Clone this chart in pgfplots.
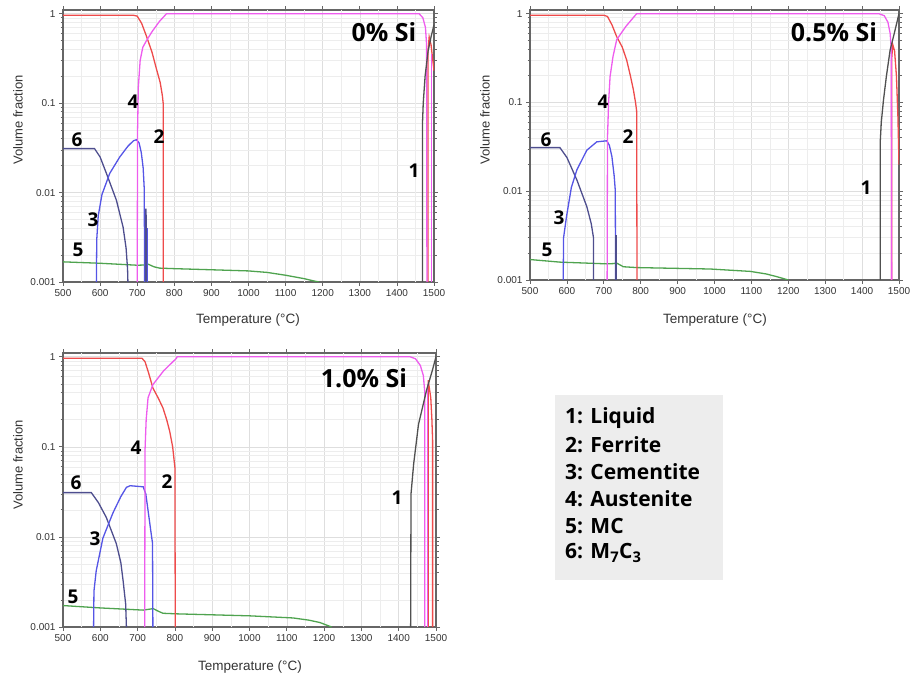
\documentclass[border=0pt]{standalone}
\usepackage{fontspec}
\setmainfont{Open Sans}
\newfontfamily\arial{Liberation Sans}
\usepackage{pgfplots}
\pgfplotsset{compat=1.18}

\definecolor{cFer}{HTML}{EE4B4B}
\definecolor{cAus}{HTML}{EE5CEE}
\definecolor{cCem}{HTML}{5555E6}
\definecolor{cMS}{HTML}{4E4E8E}
\definecolor{cMC}{HTML}{4FA34F}
\definecolor{cLiq}{HTML}{505050}

\pgfplotsset{
  every axis/.append style={
    scale only axis,
    anchor=south west,
    grid=both,
    major grid style={black!13, line width=0.6pt},
    minor grid style={black!7, line width=0.5pt},
    axis line style={draw=black!60, line width=1.1pt},
    tick align=outside,
    major tick length=4pt, minor tick length=2.5pt,
    tick style={black!60, line width=0.7pt},
    ticklabel style={font=\arial\fontsize{10}{11}\selectfont, text=black!80},
  },
  every axis plot/.append style={line width=1.3pt, no marks},
}

\newcommand{\cnum}[1]{{\fontsize{19}{19}\selectfont\bfseries #1}}
\newcommand{\csi}[1]{{\fontsize{25}{25}\selectfont\bfseries #1}}
\newcommand{\vf}{{\arial\fontsize{13}{13}\selectfont\color{black!80}Volume fraction}}
\newcommand{\tc}{{\arial\fontsize{13.5}{14}\selectfont\color{black!80}Temperature (°C)}}

\begin{document}
\begin{tikzpicture}
\path[use as bounding box] (0pt,0pt) rectangle (913pt,677pt);

%% 0% Si
\begin{axis}[at={(63pt,395pt)}, width=371pt, height=272pt,
  xmin=500, xmax=1500, ymode=log, ymin=0.001, ymax=1.1,
  xtick={500,600,...,1500}, extra x ticks={550,650,...,1450}, extra x tick labels={},
  extra x tick style={grid=major, major grid style={black!7, line width=0.5pt}, major tick length=0pt},
  ytick={0.001,0.01,0.1,1}, yticklabels={0.001,0.01,0.1,1},
  /pgf/number format/set thousands separator={},
  /pgf/number format/assume math mode=true]
\addplot[cMC] coordinates {(500,0.00168)(600,0.00162)(700,0.00154)(722,0.00155)(730,0.00158)(745,0.00148)(760,0.00143)(800,0.00141)(900,0.00137)(1000,0.00133)(1050,0.00128)(1100,0.00119)(1150,0.00109)(1175,0.00103)(1190,0.001)};
\addplot[cMS] coordinates {(500,0.031)(585,0.031)(600,0.025)(617,0.0164)(644,0.0082)(662,0.0041)(670,0.0024)(674,0.0014)(675,0.001)};
\addplot[cCem] coordinates {(590,0.001)(591,0.003)(595,0.0055)(605,0.0095)(626,0.0164)(653,0.025)(675,0.033)(690,0.038)(698,0.039)(705,0.036)(711,0.028)(716,0.019)(719,0.011)(720,0.001)};
\addplot[cMS, line width=1.6pt] coordinates {(723,0.001)(723,0.0066)(724,0.005)(725,0.001)};
\addplot[cCem, line width=1pt] coordinates {(728,0.001)(728,0.004)};
\addplot[cFer] coordinates {(500,0.96)(690,0.96)(700,0.94)(712,0.78)(725,0.56)(740,0.37)(752,0.24)(762,0.17)(768,0.12)(770,0.1)(770,0.001)};
\addplot[cFer] coordinates {(1484,0.001)(1484,0.4)(1487,0.55)(1492,0.45)(1500,0.23)};
\addplot[cAus] coordinates {(700,0.001)(701,0.05)(703,0.15)(708,0.3)(715,0.42)(725,0.5)(740,0.63)(760,0.82)(779,1.0)(1460,1.0)(1470,0.9)(1477,0.7)(1480,0.45)(1481,0.001)};
\addplot[cAus] coordinates {(1494,0.001)(1494,0.35)};
\addplot[cLiq] coordinates {(1469,0.001)(1469,0.06)(1471,0.1)(1476,0.2)(1484,0.38)(1492,0.55)(1500,0.75)};
\end{axis}

%% 0.5% Si
\begin{axis}[at={(530pt,397pt)}, width=369pt, height=270pt,
  xmin=500, xmax=1500, ymode=log, ymin=0.001, ymax=1.1,
  xtick={500,600,...,1500}, extra x ticks={550,650,...,1450}, extra x tick labels={},
  extra x tick style={grid=major, major grid style={black!7, line width=0.5pt}, major tick length=0pt},
  ytick={0.001,0.01,0.1,1}, yticklabels={0.001,0.01,0.1,1},
  /pgf/number format/set thousands separator={},
  /pgf/number format/assume math mode=true]
\addplot[cMC] coordinates {(500,0.0017)(581,0.00159)(708,0.00152)(725,0.00153)(735,0.00155)(753,0.00141)(789,0.00138)(988,0.00133)(1097,0.00125)(1140,0.00117)(1169,0.00109)(1200,0.001)};
\addplot[cMS] coordinates {(500,0.031)(581,0.031)(600,0.024)(627,0.0134)(654,0.0067)(666,0.0043)(672,0.003)(672,0.001)};
\addplot[cCem] coordinates {(590,0.001)(591,0.003)(599,0.0052)(612,0.011)(627,0.0174)(654,0.029)(681,0.036)(708,0.037)(715,0.033)(722,0.0245)(728,0.015)(731,0.0104)(732,0.001)};
\addplot[cMS, line width=2pt] coordinates {(734,0.001)(734,0.0032)};
\addplot[cFer] coordinates {(500,0.96)(700,0.96)(710,0.93)(722,0.75)(735,0.55)(750,0.42)(762,0.30)(772,0.2)(780,0.14)(786,0.1)(789,0.08)(790,0.001)};
\addplot[cFer] coordinates {(1480,0.001)(1480,0.3)(1483,0.45)(1488,0.38)(1493,0.2)(1497,0.07)(1500,0.02)};
\addplot[cAus] coordinates {(709,0.001)(710,0.04)(713,0.1)(717,0.196)(725,0.33)(735,0.51)(760,0.72)(789,1.0)(1445,1.0)(1460,0.95)(1470,0.8)(1476,0.6)(1479,0.4)(1480,0.001)};
\addplot[cLiq] coordinates {(1449,0.001)(1449,0.035)(1452,0.06)(1458,0.107)(1466,0.2)(1476,0.39)(1488,0.62)(1500,1.0)};
\end{axis}

%% 1.0% Si
\begin{axis}[at={(63pt,50pt)}, width=373pt, height=274pt,
  xmin=500, xmax=1500, ymode=log, ymin=0.001, ymax=1.1,
  xtick={500,600,...,1500}, extra x ticks={550,650,...,1450}, extra x tick labels={},
  extra x tick style={grid=major, major grid style={black!7, line width=0.5pt}, major tick length=0pt},
  ytick={0.001,0.01,0.1,1}, yticklabels={0.001,0.01,0.1,1},
  /pgf/number format/set thousands separator={},
  /pgf/number format/assume math mode=true]
\addplot[cMC] coordinates {(500,0.00173)(598,0.00163)(715,0.00154)(742,0.0016)(755,0.0015)(768,0.00142)(804,0.0014)(1001,0.00133)(1117,0.00126)(1160,0.00119)(1189,0.00112)(1220,0.001)};
\addplot[cMS] coordinates {(500,0.031)(576,0.031)(595,0.024)(616,0.0165)(643,0.0084)(655,0.0052)(661,0.0033)(668,0.0018)(670,0.001)};
\addplot[cCem] coordinates {(582,0.001)(583,0.0025)(589,0.0042)(607,0.0097)(634,0.0185)(655,0.028)(670,0.0355)(680,0.037)(715,0.036)(722,0.03)(728,0.0197)(735,0.012)(740,0.0085)(741,0.001)};
\addplot[cFer] coordinates {(500,0.96)(712,0.96)(720,0.88)(730,0.65)(741,0.45)(755,0.35)(768,0.27)(778,0.2)(786,0.149)(794,0.1)(800,0.059)(801,0.001)};
\addplot[cFer] coordinates {(1479,0.001)(1479,0.55)(1486,0.35)(1489,0.2)(1491,0.115)(1491,0.001)};
\addplot[cAus] coordinates {(719,0.001)(720,0.094)(723,0.2)(728,0.35)(741,0.49)(770,0.7)(804,0.96)(806,1.0)(1430,1.0)(1445,0.95)(1458,0.8)(1466,0.62)(1470,0.4)(1470,0.001)};
\addplot[cAus] coordinates {(1478,0.001)(1478,0.5)};
\addplot[cLiq] coordinates {(1432,0.001)(1433,0.03)(1440,0.064)(1453,0.177)(1475,0.43)(1490,0.7)(1500,1.0)};
\end{axis}

\begin{scope}[x=1pt,y=1pt]
%% axis titles
\node[rotate=90] at (18,557) {\vf};
\node[rotate=90] at (485,557) {\vf};
\node[rotate=90] at (18,212) {\vf};
\node at (248,357) {\tc};
\node at (715,357) {\tc};
\node at (250,10) {\tc};

%% curve numbers, 0% Si
\node at (384,645) {\csi{0\% Si}};
\node at (133,575) {\cnum{4}};
\node at (159,540) {\cnum{2}};
\node at (77,537) {\cnum{6}};
\node at (93,457) {\cnum{3}};
\node at (78,427) {\cnum{5}};
\node at (414,506) {\cnum{1}};

%% 0.5% Si
\node at (834,645) {\csi{0.5\% Si}};
\node at (603,575) {\cnum{4}};
\node at (628,540) {\cnum{2}};
\node at (546,537) {\cnum{6}};
\node at (559,459) {\cnum{3}};
\node at (547,427) {\cnum{5}};
\node at (866,489) {\cnum{1}};

%% 1.0% Si
\node at (364,299) {\csi{1.0\% Si}};
\node at (136,229) {\cnum{4}};
\node at (167,195) {\cnum{2}};
\node at (76,194) {\cnum{6}};
\node at (95,138) {\cnum{3}};
\node at (73,80) {\cnum{5}};
\node at (397,179) {\cnum{1}};

%% phase key
\fill[black!7] (555,97) rectangle (723,282);
\begin{scope}[every node/.style={anchor=west, inner sep=0pt, font=\fontsize{21}{21}\selectfont\bfseries}]
\node at (565,259) {1: Liquid};
\node at (565,232) {2: Ferrite};
\node at (565,205) {3: Cementite};
\node at (565,178) {4: Austenite};
\node at (565,151) {5: MC};
\node at (565,124) {6: M\textsubscript{7}C\textsubscript{3}};
\end{scope}
\end{scope}
\end{tikzpicture}
\end{document}
